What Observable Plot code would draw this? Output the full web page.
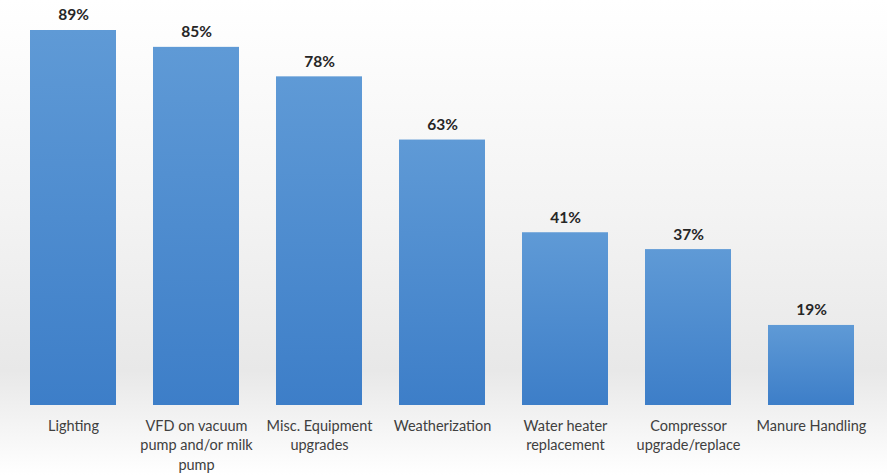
<!DOCTYPE html>
<html>
<head>
<meta charset="utf-8">
<script src="https://cdn.jsdelivr.net/npm/d3@7"></script>
<script src="https://cdn.jsdelivr.net/npm/@observablehq/plot@0.6"></script>
<style>
  html, body { margin: 0; padding: 0; background: #fff; }
  #chart { width: 887px; height: 475px; background: linear-gradient(to bottom, #ffffff 0%, #f3f3f3 45%, #e8e8e8 78%, #ffffff 100%); }
  #chart svg { background: transparent !important; display: block; }
</style>
</head>
<body>
<div id="chart"></div>
<script>
const categories = ["Lighting", "VFD on vacuum pump and/or milk pump", "Misc. Equipment upgrades", "Weatherization", "Water heater replacement", "Compressor upgrade/replace", "Manure Handling"];
const tickLabels = ["Lighting", "VFD on vacuum\npump and/or milk\npump", "Misc. Equipment\nupgrades", "Weatherization", "Water heater\nreplacement", "Compressor\nupgrade/replace", "Manure Handling"];
const values = [89, 85, 78, 63, 41, 37, 19];

const data = categories.map((c, i) => ({category: c, value: values[i], label: values[i] + "%"}));
const labelOf = new Map(categories.map((c, i) => [c, tickLabels[i]]));

const chart = Plot.plot({
  width: 887,
  height: 475,
  marginTop: 30,
  marginBottom: 70,
  marginLeft: 10,
  marginRight: 12,
  style: {background: "transparent", fontFamily: "Lato, 'Open Sans', sans-serif"},
  x: {domain: categories, paddingInner: 0.3, paddingOuter: 0.15, label: null},
  y: {domain: [0, 89], axis: null},
  marks: [
    Plot.barY(data, {x: "category", y: "value", fill: "url(#barGrad)"}),
    Plot.text(data, {x: "category", y: "value", text: "label", dy: -15, fontSize: 15.5, fontWeight: "bold", fill: "#262626"}),
    Plot.axisX({tickSize: 0, tickPadding: 12, fontSize: 14.5, lineHeight: 1.33, tickFormat: d => labelOf.get(d), color: "#404040"})
  ]
});

const svg = d3.select(chart);
const defs = svg.insert("defs", ":first-child");
const g = defs.append("linearGradient").attr("id", "barGrad").attr("x1", 0).attr("y1", 0).attr("x2", 0).attr("y2", 1);
g.append("stop").attr("offset", "0%").attr("stop-color", "#5f9ad6");
g.append("stop").attr("offset", "100%").attr("stop-color", "#3d7ec8");
svg.selectAll("g[aria-label='bar'] rect").attr("fill", "url(#barGrad)");

document.getElementById("chart").appendChild(chart);
</script>
</body>
</html>
